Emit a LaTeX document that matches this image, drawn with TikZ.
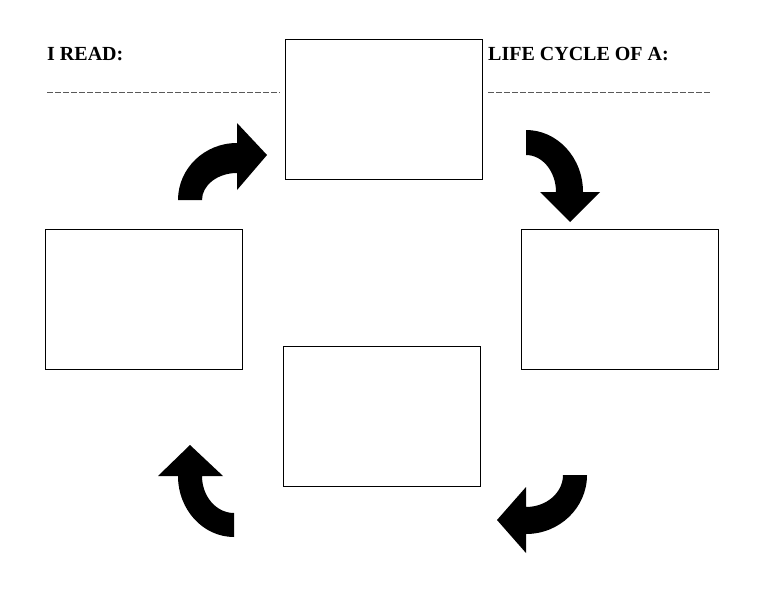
\documentclass[tikz,border=0pt]{standalone}
\usepackage{fontspec}
\setmainfont{Liberation Serif}
\begin{document}
\begin{tikzpicture}[x=1pt,y=-1pt,
  box/.style={draw,line width=0.8pt,minimum width=197pt,minimum height=140pt,inner sep=0pt,anchor=north west},
  title/.style={font=\bfseries\fontsize{20}{22}\selectfont,anchor=base west,inner sep=0pt},
  blank/.style={dashed,dash pattern=on 6pt off 2pt,line width=0.8pt,gray!70!black},
  bigarrow/.style={fill=black}]
\useasboundingbox (0,0) rectangle (768,594);
\node[box] (top) at (285,39) {};
\node[box] (left) at (45,229) {};
\node[box] (right) at (521,229) {};
\node[box] (bottom) at (283,346) {};
\node[title] (tread) at (47,60) {I READ:};
\node[title] (tlife) at (488,60) {LIFE CYCLE OF A:};
\coordinate (l1a) at (47,92); \coordinate (l1b) at (280,92);
\coordinate (l2a) at (488,92); \coordinate (l2b) at (710,92);
\draw[blank] (l1a) -- (l1b);
\draw[blank] (l2a) -- (l2b);
% arrows
\fill[bigarrow] (178,200) arc[start angle=180,end angle=270,x radius=59,y radius=57]
  -- (237,123) -- (267,155) -- (237,190) -- (237,173)
  arc[start angle=270,end angle=180,x radius=35,y radius=27] -- cycle;
\fill[bigarrow] (526,130) arc[start angle=270,end angle=360,x radius=57,y radius=62]
  -- (600,192) -- (570,222) -- (540,192) -- (556,192)
  arc[start angle=360,end angle=270,x radius=30,y radius=37] -- cycle;
\fill[bigarrow] (587,475) arc[start angle=0,end angle=90,x radius=61,y radius=59]
  -- (526,553) -- (497,520) -- (526,487) -- (526,507)
  arc[start angle=90,end angle=0,x radius=37,y radius=32] -- cycle;
\fill[bigarrow] (178,476) arc[start angle=180,end angle=90,x radius=56,y radius=61]
  -- (234,513) arc[start angle=90,end angle=180,x radius=32,y radius=37]
  -- (223,476) -- (190,445) -- (158,476) -- cycle;
\end{tikzpicture}
\end{document}
